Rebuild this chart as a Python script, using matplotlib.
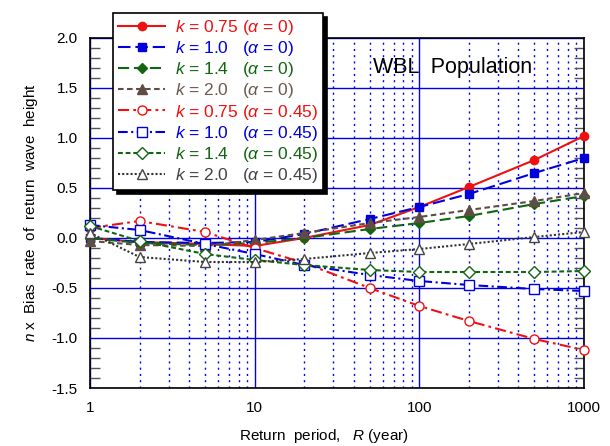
import matplotlib
matplotlib.use("Agg")
import matplotlib.pyplot as plt
from matplotlib.ticker import MultipleLocator, FixedLocator, NullFormatter, LogLocator

plt.rcParams['font.family'] = ['Liberation Sans', 'DejaVu Sans']
plt.rcParams['mathtext.fontset'] = 'custom'
plt.rcParams['mathtext.rm'] = 'Liberation Sans'
plt.rcParams['mathtext.it'] = 'Liberation Sans:italic'
plt.rcParams['lines.scale_dashes'] = False

R = [1, 2, 5, 10, 20, 50, 100, 200, 500, 1000]

k075_a0 = [0.00, -0.04, -0.06, -0.08, 0.00, 0.13, 0.31, 0.51, 0.78, 1.02]
k10_a0 = [0.00, -0.04, -0.05, -0.04, 0.04, 0.19, 0.31, 0.44, 0.65, 0.80]
k14_a0 = [0.00, -0.05, -0.07, -0.05, 0.00, 0.09, 0.15, 0.22, 0.34, 0.42]
k20_a0 = [-0.03, -0.07, -0.08, -0.02, 0.05, 0.15, 0.21, 0.28, 0.37, 0.45]
k075_a45 = [0.10, 0.17, 0.06, -0.10, -0.25, -0.50, -0.68, -0.83, -1.01, -1.12]
k10_a45 = [0.13, 0.08, -0.06, -0.16, -0.27, -0.37, -0.43, -0.47, -0.51, -0.53]
k14_a45 = [0.12, -0.03, -0.16, -0.22, -0.27, -0.32, -0.34, -0.34, -0.34, -0.33]
k20_a45 = [0.05, -0.19, -0.24, -0.24, -0.21, -0.15, -0.11, -0.06, 0.01, 0.06]

labels = [r'$k$ = 0.75 ($\alpha$ = 0)',
          r'$k$ = 1.0   ($\alpha$ = 0)',
          r'$k$ = 1.4   ($\alpha$ = 0)',
          r'$k$ = 2.0   ($\alpha$ = 0)',
          r'$k$ = 0.75 ($\alpha$ = 0.45)',
          r'$k$ = 1.0   ($\alpha$ = 0.45)',
          r'$k$ = 1.4   ($\alpha$ = 0.45)',
          r'$k$ = 2.0   ($\alpha$ = 0.45)']

RED = '#ee1111'
BLUE = '#0000dd'
GREEN = '#116611'
BROWN = '#5e4d44'
DARK = '#333333'

fig = plt.figure(figsize=(6.1, 4.46), dpi=100)
ax = fig.add_axes([90/610, 1-388/446, (584-90)/610, (388-38)/446])

series = [
    (k075_a0, RED, '-', 'o', RED, 6),
    (k10_a0, BLUE, (0, (9, 3.5)), 's', BLUE, 6),
    (k14_a0, GREEN, (0, (8, 3.5)), 'D', GREEN, 5.5),
    (k20_a0, BROWN, (0, (4, 2.5)), '^', BROWN, 7),
    (k075_a45, RED, (0, (8, 3, 2, 3)), 'o', 'white', 6.5),
    (k10_a45, BLUE, (0, (7, 2.5, 1.5, 2.5)), 's', 'white', 6.5),
    (k14_a45, GREEN, (0, (3.5, 2)), 'D', 'white', 6),
    (k20_a45, DARK, (0, (1.5, 1.5)), '^', 'white', 7),
]

handles = []
for (vals, col, ls, mk, mfc, ms), lab in zip(series, labels):
    mec = col if col != DARK else '#444444'
    h, = ax.plot(R, vals, color=col, linestyle=ls, linewidth=1.5,
                 marker=mk, markersize=ms, markerfacecolor=mfc,
                 markeredgecolor=mec, markeredgewidth=1.0, label=lab,
                 clip_on=False, zorder=3)
    handles.append(h)

ax.set_xscale('log')
ax.set_xlim(1, 1000)
ax.set_ylim(-1.5, 2.0)
ax.yaxis.set_minor_locator(MultipleLocator(0.1))
ax.set_yticks([-1.5, -1.0, -0.5, 0.0, 0.5, 1.0, 1.5, 2.0])
ax.set_yticklabels(['-1.5', '-1.0', '-0.5', '0.0', '0.5', '1.0', '1.5', '2.0'])
ax.xaxis.set_major_locator(FixedLocator([1, 10, 100, 1000]))
ax.set_xticklabels(['1', '10', '100', '1000'])
ax.xaxis.set_minor_locator(LogLocator(base=10, subs=range(2, 10)))
ax.xaxis.set_minor_formatter(NullFormatter())

ax.grid(which='major', axis='both', color='#0000ee', linestyle='-', linewidth=1.0)
ax.grid(which='minor', axis='x', color='#0000ee', linestyle=(0, (1.5, 3)), linewidth=1.0)
ax.set_axisbelow(True)

ax.tick_params(axis='y', which='both', direction='in', left=True, right=True, labelsize=11, pad=9)
ax.tick_params(axis='y', which='major', length=0)
ax.tick_params(axis='y', which='minor', length=7, width=1.0, color='#555555')
ax.tick_params(axis='x', which='both', direction='in', length=0, labelsize=11, pad=9)
for sp in ax.spines.values():
    sp.set_color('black')
    sp.set_linewidth(1.2)

ax.set_xlabel(r'Return  period,   $R$ (year)', fontsize=11, labelpad=9)
ax.xaxis.label.set_x((324-90)/494)
ax.set_ylabel(r'$n$ x  Bias  rate  of  return  wave  height', fontsize=11, labelpad=8)

fig.text(453/610, 1-67/446, 'WBL  Population', fontsize=15.5,
         ha='center', va='center')

leg = fig.legend(handles=handles, loc='upper left',
                 bbox_to_anchor=(113/610, 1-13/446), bbox_transform=fig.transFigure,
                 fontsize=12.5, frameon=True, fancybox=False, edgecolor='black',
                 framealpha=1, handlelength=2.7, handletextpad=0.55,
                 labelspacing=0.12, borderpad=0.3, borderaxespad=0,
                 shadow={'color': 'black', 'alpha': 1, 'ox': 3, 'oy': -3})
leg.get_frame().set_linewidth(1.2)
for t, s in zip(leg.get_texts(), series):
    col = s[1]
    if col == BROWN:
        col = '#6b5a50'
    if col == DARK:
        col = '#444444'
    t.set_color(col)

fig.savefig('out.png', dpi=100)
